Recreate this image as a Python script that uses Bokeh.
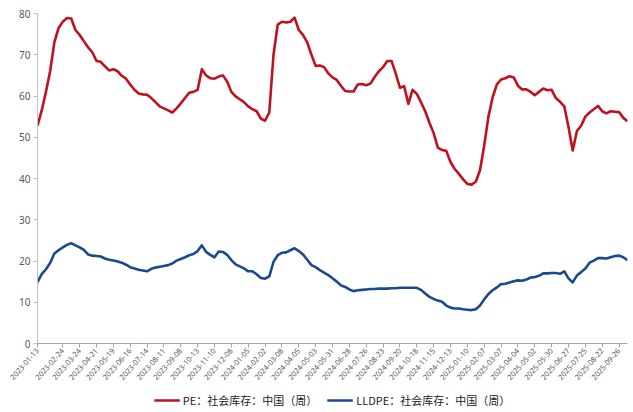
from bokeh.plotting import figure
from bokeh.layouts import column
from bokeh.models import FixedTicker, Legend, LegendItem, Range1d
from bokeh.embed import file_html
from bokeh.resources import INLINE

# Weekly social inventory (10k tonnes), China
tick_dates = [
    "2023-01-13", "2023-02-24", "2023-03-24", "2023-04-21", "2023-05-19",
    "2023-06-16", "2023-07-14", "2023-08-11", "2023-09-08", "2023-10-13",
    "2023-11-10", "2023-12-08", "2024-01-05", "2024-02-02", "2024-03-08",
    "2024-04-05", "2024-05-03", "2024-05-31", "2024-06-28", "2024-07-26",
    "2024-08-23", "2024-09-20", "2024-10-18", "2024-11-15", "2024-12-13",
    "2025-01-10", "2025-02-07", "2025-03-07", "2025-04-04", "2025-05-02",
    "2025-05-30", "2025-06-27", "2025-07-25", "2025-08-22", "2025-09-26",
]

pe_stock = [
    52.8, 56.5, 61.0, 66.0, 73.0, 76.5, 78.0, 78.9, 78.8, 76.0,
    74.8, 73.3, 71.8, 70.6, 68.5, 68.3, 67.2, 66.2, 66.5, 66.0,
    64.9, 64.2, 62.8, 61.5, 60.6, 60.4, 60.3, 59.5, 58.5, 57.5,
    57.0, 56.5, 56.0, 57.0, 58.2, 59.5, 60.8, 61.0, 61.5, 66.5,
    65.0, 64.3, 64.2, 64.7, 65.0, 63.5, 61.0, 59.9, 59.2, 58.5,
    57.5, 56.8, 56.3, 54.5, 54.0, 56.0, 70.0, 77.3, 78.0, 77.8,
    78.0, 79.0, 76.0, 74.8, 73.0, 70.0, 67.3, 67.4, 67.0, 65.5,
    64.5, 63.9, 62.5, 61.2, 61.1, 61.1, 62.8, 62.9, 62.6, 63.0,
    64.6, 66.0, 67.0, 68.5, 68.5, 65.5, 62.0, 62.4, 58.1, 61.5,
    60.5, 58.5, 56.3, 53.5, 51.0, 47.5, 46.9, 46.7, 44.0, 42.3,
    41.1, 39.8, 38.7, 38.5, 39.2, 42.0, 48.0, 55.0, 59.7, 62.8,
    64.0, 64.3, 64.8, 64.5, 62.5, 61.6, 61.6, 61.0, 60.2, 61.0,
    61.8, 61.4, 61.5, 59.5, 58.6, 57.5, 52.5, 46.8, 51.5, 52.8,
    55.0, 56.0, 56.8, 57.6, 56.3, 55.8, 56.3, 56.2, 56.1, 54.7,
    53.9,
]

lldpe_stock = [
    14.9, 16.8, 18.0, 19.5, 21.8, 22.6, 23.3, 23.9, 24.3, 23.8,
    23.3, 22.7, 21.6, 21.3, 21.2, 21.1, 20.6, 20.3, 20.1, 19.9,
    19.6, 19.1, 18.5, 18.2, 17.9, 17.7, 17.5, 18.1, 18.4, 18.6,
    18.8, 19.0, 19.4, 20.1, 20.5, 20.9, 21.4, 21.7, 22.4, 23.8,
    22.2, 21.5, 20.9, 22.3, 22.2, 21.5, 20.2, 19.2, 18.7, 18.2,
    17.5, 17.5, 16.8, 15.9, 15.7, 16.3, 19.8, 21.4, 22.0, 22.1,
    22.6, 23.1, 22.4, 21.6, 20.3, 19.0, 18.5, 17.8, 17.2, 16.6,
    15.8, 15.0, 14.1, 13.7, 13.1, 12.7, 12.9, 13.0, 13.1, 13.2,
    13.2, 13.3, 13.3, 13.3, 13.4, 13.4, 13.5, 13.5, 13.5, 13.5,
    13.5, 13.0, 12.1, 11.3, 10.8, 10.4, 10.1, 9.2, 8.7, 8.5,
    8.5, 8.3, 8.2, 8.1, 8.3, 9.2, 10.7, 12.0, 12.9, 13.6,
    14.4, 14.5, 14.8, 15.1, 15.3, 15.2, 15.5, 16.0, 16.1, 16.4,
    17.0, 17.0, 17.1, 17.1, 16.9, 17.5, 15.8, 14.8, 16.5, 17.3,
    18.2, 19.6, 20.1, 20.7, 20.7, 20.6, 20.9, 21.2, 21.3, 20.9,
    20.2,
]

series_names = ["PE：社会库存：中国（周）", "LLDPE：社会库存：中国（周）"]
series_colors = ["#c0111f", "#1b4a8c"]

week_idx = list(range(len(pe_stock)))
# a label every 4th reported week (one holiday gap after the first)
tick_idx = [0] + list(range(6, 6 + 4 * (len(tick_dates) - 1), 4))

p = figure(
    width=633, height=388,
    output_backend="svg", toolbar_location=None,
    x_range=Range1d(0, 140), y_range=Range1d(0, 80),
    min_border_left=37, min_border_right=6,
    min_border_top=13, min_border_bottom=45,
    background_fill_color="white", border_fill_color="white",
)
p.outline_line_color = None
p.grid.visible = False

p.line(week_idx, pe_stock, line_color=series_colors[0], line_width=2.6,
       line_join="round")
p.line(week_idx, lldpe_stock, line_color=series_colors[1], line_width=2.6,
       line_join="round")

axis_gray = "#bfbfbf"
label_gray = "#595959"

p.yaxis.ticker = FixedTicker(ticks=[0, 10, 20, 30, 40, 50, 60, 70, 80])
p.yaxis.axis_line_color = axis_gray
p.yaxis.major_tick_line_color = axis_gray
p.yaxis.major_tick_out = 4
p.yaxis.major_tick_in = 0
p.yaxis.minor_tick_line_color = None
p.yaxis.major_label_text_font = "Noto Sans"
p.yaxis.major_label_text_font_size = "10px"
p.yaxis.major_label_text_color = label_gray
p.yaxis.major_label_standoff = 3

p.xaxis.ticker = FixedTicker(ticks=tick_idx)
p.xaxis.major_label_overrides = {i: d for i, d in zip(tick_idx, tick_dates)}
p.xaxis.major_label_orientation = 0.85
p.xaxis.axis_line_color = "#a6a6a6"
p.xaxis.major_tick_line_color = "#a6a6a6"
p.xaxis.major_tick_out = 4
p.xaxis.major_tick_in = 0
p.xaxis.minor_tick_line_color = None
p.xaxis.major_label_text_font = "Noto Sans"
p.xaxis.major_label_text_font_size = "7.5px"
p.xaxis.major_label_text_color = label_gray
p.xaxis.major_label_standoff = 2

# legend strip under the chart; the key lines sit outside its visible range
leg = figure(
    width=633, height=24,
    output_backend="svg", toolbar_location=None,
    x_range=Range1d(0, 1), y_range=Range1d(0, 1),
    min_border=0, background_fill_color="white", border_fill_color="white",
)
leg.axis.visible = False
leg.grid.visible = False
leg.outline_line_color = None
key_pe = leg.line([-5, -4], [-5, -5], line_color=series_colors[0], line_width=2.6)
key_ll = leg.line([-5, -4], [-5, -5], line_color=series_colors[1], line_width=2.6)

legend = Legend(
    items=[LegendItem(label=series_names[0], renderers=[key_pe]),
           LegendItem(label=series_names[1], renderers=[key_ll])],
    orientation="horizontal", location="center",
    label_text_font="Noto Sans CJK SC", label_text_font_size="11px",
    label_text_color="#222222",
    glyph_width=26, glyph_height=10, label_standoff=3, spacing=10,
    padding=0, margin=0, border_line_color=None, background_fill_alpha=0,
)
leg.add_layout(legend, "center")

layout = column(p, leg, spacing=0)
open("out.html", "w").write(file_html(layout, INLINE))
